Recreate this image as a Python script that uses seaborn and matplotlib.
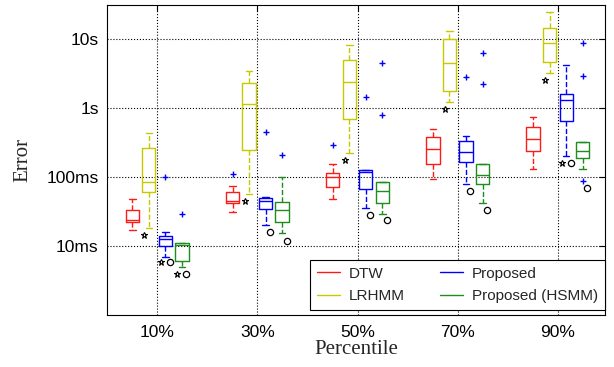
import matplotlib
matplotlib.use("Agg")
import matplotlib.pyplot as plt
from matplotlib.lines import Line2D
from matplotlib.ticker import NullLocator
import seaborn as sns
import pandas as pd

percentiles = ["10%", "30%", "50%", "70%", "90%"]
methods = ["DTW", "LRHMM", "Proposed", "Proposed (HSMM)"]
colors = ["#ff1a1a", "#c8c800", "#0000ff", "#1e8c1e"]

# box stats per percentile: [lower whisker, q1, median, q3, upper whisker] in seconds
dtw_box = [
    [0.0173, 0.0223, 0.0236, 0.0333, 0.0491],
    [0.0316, 0.0416, 0.0449, 0.0605, 0.074],
    [0.0487, 0.0724, 0.101, 0.1155, 0.1574],
    [0.0955, 0.154, 0.257, 0.383, 0.493],
    [0.132, 0.237, 0.358, 0.534, 0.745],
]
lrhmm_box = [
    [0.0183, 0.0605, 0.0856, 0.262, 0.441],
    [0.058, 0.251, 1.148, 2.31, 3.48],
    [0.225, 0.704, 2.44, 4.97, 8.27],
    [1.24, 1.79, 4.5, 10.0, 13.3],
    [3.29, 4.70, 8.84, 14.7, 25.1],
]
proposed_box = [
    [0.00705, 0.0100, 0.0128, 0.0140, 0.016],
    [0.0202, 0.034, 0.0459, 0.0502, 0.0519],
    [0.0352, 0.0685, 0.118, 0.126, 0.1288],
    [0.080, 0.168, 0.232, 0.335, 0.40],
    [0.2055, 0.659, 1.325, 1.60, 4.21],
]
hsmm_box = [
    [0.00505, 0.00609, 0.0104, 0.01124, 0.01124],
    [0.0153, 0.0221, 0.0329, 0.0434, 0.101],
    [0.0295, 0.0416, 0.0634, 0.0845, 0.0845],
    [0.0426, 0.081, 0.1067, 0.157, 0.157],
    [0.1334, 0.190, 0.237, 0.324, 0.324],
]

# outliers (+)
dtw_outliers = [("30%", 0.113), ("50%", 0.297)]
lrhmm_outliers = []
proposed_outliers = [("10%", 0.101), ("30%", 0.457), ("50%", 1.45), ("70%", 2.88)]
hsmm_outliers = [("10%", 0.0295), ("30%", 0.212), ("50%", 4.5), ("50%", 0.804),
                 ("70%", 6.34), ("70%", 2.24), ("90%", 8.93), ("90%", 2.95), ("90%", 0.0873)]

# star / circle annotations below the boxes
star_marks = [("LRHMM", "10%", 0.0145), ("LRHMM", "30%", 0.0455), ("LRHMM", "50%", 0.178),
              ("LRHMM", "70%", 0.973), ("LRHMM", "90%", 2.58), ("Proposed", "10%", 0.0058),
              ("Proposed", "90%", 0.163), ("Proposed (HSMM)", "10%", 0.0040)]
circle_marks = [("Proposed", "10%", 0.0058), ("Proposed", "30%", 0.016), ("Proposed", "50%", 0.0282),
                ("Proposed", "70%", 0.0626), ("Proposed", "90%", 0.163),
                ("Proposed (HSMM)", "10%", 0.0040), ("Proposed (HSMM)", "30%", 0.0119),
                ("Proposed (HSMM)", "50%", 0.0236), ("Proposed (HSMM)", "70%", 0.0333),
                ("Proposed (HSMM)", "90%", 0.070)]

rows = []
for m, boxes in zip(methods, [dtw_box, lrhmm_box, proposed_box, hsmm_box]):
    for p, vals in zip(percentiles, boxes):
        for v in vals:
            rows.append({"Percentile": p, "Method": m, "Error": v})
df = pd.DataFrame(rows)

sns.set_style("white")
plt.rcParams["font.family"] = ["Liberation Sans", "DejaVu Sans"]

fig = plt.figure(figsize=(6.14, 3.67), dpi=100)
ax = fig.add_axes([107 / 614, 52 / 367, 498 / 614, 310 / 367])

width = 0.66
sns.boxplot(data=df, x="Percentile", y="Error", hue="Method", order=percentiles,
            hue_order=methods, palette=colors, fill=False, width=width, gap=0.2,
            whis=(0, 100), showfliers=False, log_scale=True, linewidth=1.0,
            whiskerprops={"linestyle": "--"}, legend=False, ax=ax)

step = width / len(methods)
offset = {m: (k - (len(methods) - 1) / 2) * step for k, m in enumerate(methods)}
pos = {p: i for i, p in enumerate(percentiles)}

for m, outs in zip(methods, [dtw_outliers, lrhmm_outliers, proposed_outliers, hsmm_outliers]):
    for p, v in outs:
        ax.plot(pos[p] + offset[m], v, "+", color="#0000ff", ms=5, mew=1.0)
for m, p, v in star_marks:
    ax.plot(pos[p] + offset[m] - 0.045, v, "*", mfc="white", mec="black", ms=5, mew=0.8)
for m, p, v in circle_marks:
    ax.plot(pos[p] + offset[m] + 0.045, v, "o", mfc="none", mec="black", ms=4.5, mew=0.9)

ax.set_ylim(1e-3, 10 ** 1.5)
ax.set_xlim(-0.5, 4.47)
ax.set_yticks([0.01, 0.1, 1, 10], labels=["10ms", "100ms", "1s", "10s"])
ax.yaxis.set_minor_locator(NullLocator())
ax.set_xticks(range(len(percentiles)), labels=percentiles)
ax.grid(True, which="major", linestyle=":", color="black", linewidth=0.8)
ax.tick_params(direction="in", length=4, top=True, right=True, labelsize=12.5,
               colors="black", width=0.8)
ax.tick_params(axis="y", pad=6)
ax.tick_params(axis="x", pad=7)
for s in ax.spines.values():
    s.set_visible(True)
    s.set_color("black")
    s.set_linewidth(0.8)

ax.set_xlabel("Percentile", family=["Liberation Serif"], fontsize=15, labelpad=0)
ax.set_ylabel("Error", family=["Liberation Serif"], fontsize=15, labelpad=10)

handles = [Line2D([], [], color=c, lw=1.0) for c in colors]
leg = ax.legend(handles, methods, loc="lower right", bbox_to_anchor=(1.0, 0.016),
                ncol=2, fontsize=11, frameon=True, fancybox=False, edgecolor="black",
                framealpha=1, borderaxespad=0, handlelength=1.5, columnspacing=2.3,
                handletextpad=0.6, borderpad=0.45, labelspacing=0.55)
leg.get_frame().set_linewidth(0.8)

fig.savefig("out.png", dpi=100)
plt.close(fig)
